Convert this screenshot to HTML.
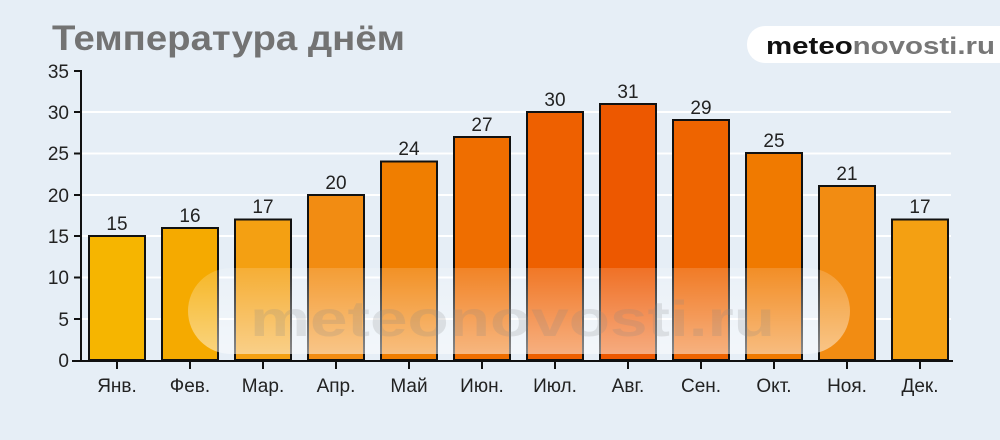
<!DOCTYPE html>
<html><head><meta charset="utf-8"><style>
body{margin:0;background:#e6eef6;}
svg{display:block;font-family:"Liberation Sans",sans-serif;}
</style></head><body>
<svg width="1000" height="440" viewBox="0 0 1000 440">
<defs>
<linearGradient id="wm" x1="0" y1="0" x2="0" y2="1">
<stop offset="0" stop-color="#fff" stop-opacity="0.15"/>
<stop offset="1" stop-color="#fff" stop-opacity="0.5"/>
</linearGradient>
</defs>
<rect width="1000" height="440" fill="#e6eef6"/>
<text x="52" y="50" font-size="35" font-weight="bold" fill="#737373" textLength="353" lengthAdjust="spacingAndGlyphs">Температура днём</text>
<rect x="747" y="26" width="280" height="37" rx="18" fill="#fff"/>
<text x="766" y="54" font-size="24" font-weight="bold" fill="#111" textLength="229" lengthAdjust="spacingAndGlyphs">meteo<tspan fill="#777">novosti.ru</tspan></text>
<g stroke="#fff" stroke-width="2">
<line x1="82" y1="112" x2="951" y2="112"/><line x1="82" y1="153.5" x2="951" y2="153.5"/>
<line x1="82" y1="195" x2="951" y2="195"/><line x1="82" y1="236" x2="951" y2="236"/>
<line x1="82" y1="277.5" x2="951" y2="277.5"/><line x1="82" y1="319" x2="951" y2="319"/>
</g>
<g stroke="#111" stroke-width="2">
<rect x="89" y="236" width="56" height="124" fill="#f6b500"/>
<rect x="162" y="228" width="56" height="132" fill="#f5aa00"/>
<rect x="235" y="219.5" width="56" height="140.5" fill="#f4a012"/>
<rect x="308" y="195" width="56" height="165" fill="#f28c12"/>
<rect x="381" y="161.5" width="56" height="198.5" fill="#f07e00"/>
<rect x="454" y="137" width="56" height="223" fill="#ef6e00"/>
<rect x="527" y="112" width="56" height="248" fill="#ee6000"/>
<rect x="600" y="104" width="56" height="256" fill="#ed5800"/>
<rect x="673" y="120" width="56" height="240" fill="#ee6400"/>
<rect x="746" y="153" width="56" height="207" fill="#f07a00"/>
<rect x="819" y="186" width="56" height="174" fill="#f28c12"/>
<rect x="892" y="219.5" width="56" height="140.5" fill="#f4a012"/>
</g>
<rect x="188" y="268" width="662" height="86" rx="43" fill="url(#wm)"/>
<text x="250" y="336" font-size="50" font-weight="bold" fill="#888" opacity="0.2" textLength="525" lengthAdjust="spacingAndGlyphs">meteonovosti.ru</text>
<g stroke="#111" stroke-width="2" fill="none">
<line x1="81" y1="70" x2="81" y2="361"/>
<line x1="72" y1="361" x2="953" y2="361"/>
<line x1="74" y1="71" x2="81" y2="71"/><line x1="74" y1="112" x2="81" y2="112"/>
<line x1="74" y1="153.5" x2="81" y2="153.5"/><line x1="74" y1="195" x2="81" y2="195"/>
<line x1="74" y1="236" x2="81" y2="236"/><line x1="74" y1="277.5" x2="81" y2="277.5"/>
<line x1="74" y1="319" x2="81" y2="319"/>
<path d="M117 361v8M190 361v8M263 361v8M336 361v8M409 361v8M482 361v8M555 361v8M628 361v8M701 361v8M774 361v8M847 361v8M920 361v8"/>
</g>
<g font-size="19" fill="#222" text-anchor="end">
<text x="69" y="78">35</text><text x="69" y="119">30</text><text x="69" y="160">25</text>
<text x="69" y="202">20</text><text x="69" y="243">15</text><text x="69" y="284">10</text>
<text x="69" y="326">5</text><text x="69" y="367">0</text>
</g>
<g font-size="19" fill="#222" text-anchor="middle">
<text x="117" y="230">15</text><text x="190" y="222">16</text><text x="263" y="213">17</text>
<text x="336" y="189">20</text><text x="409" y="155">24</text><text x="482" y="131">27</text>
<text x="555" y="106">30</text><text x="628" y="98">31</text><text x="701" y="114">29</text>
<text x="774" y="147">25</text><text x="847" y="180">21</text><text x="920" y="213">17</text>
</g>
<g font-size="19" fill="#222" text-anchor="middle">
<text x="117" y="392">Янв.</text><text x="190" y="392">Фев.</text><text x="263" y="392">Мар.</text>
<text x="336" y="392">Апр.</text><text x="409" y="392">Май</text><text x="482" y="392">Июн.</text>
<text x="555" y="392">Июл.</text><text x="628" y="392">Авг.</text><text x="701" y="392">Сен.</text>
<text x="774" y="392">Окт.</text><text x="847" y="392">Ноя.</text><text x="920" y="392">Дек.</text>
</g>
</svg>
</body></html>
